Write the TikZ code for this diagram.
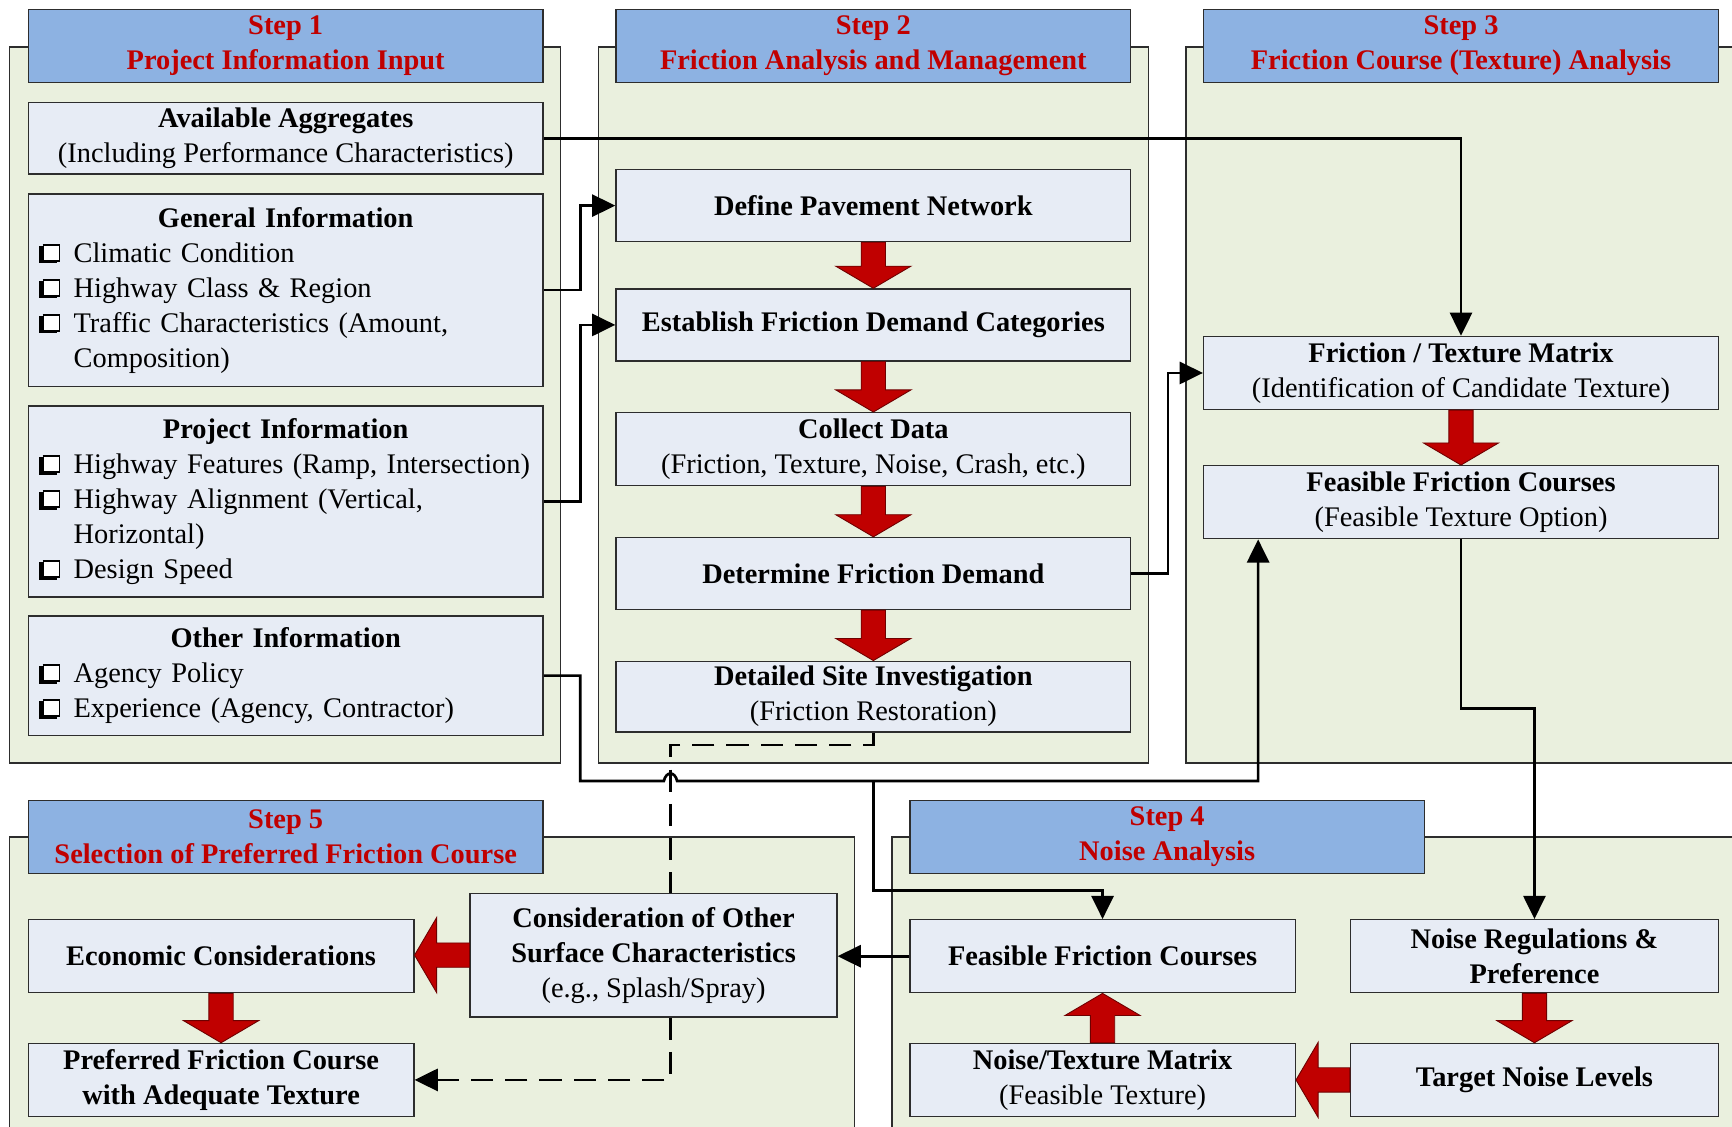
\documentclass[tikz,border=0pt]{standalone}
\usepackage{fontspec}
\setmainfont{Liberation Serif}
\usetikzlibrary{arrows.meta,calc}

\definecolor{panelgreen}{RGB}{234,240,222}
\definecolor{headblue}{RGB}{141,178,226}
\definecolor{boxfill}{RGB}{231,236,245}
\definecolor{headred}{RGB}{192,0,0}
\definecolor{arrowred}{RGB}{192,0,0}
\definecolor{arrowdark}{RGB}{110,0,0}
\definecolor{edge}{RGB}{45,45,45}

\newcommand{\mainsize}{\fontsize{25.7}{31.7}\selectfont}
% shadowed check box built from rules (shadow at the lower left)
\newcommand{\chk}{\makebox[19pt][l]{%
  \rlap{\raisebox{-1pt}{\rule{16pt}{16pt}}}%
  \hspace{3pt}\raisebox{2pt}{\fboxsep=0pt\fboxrule=1.5pt\fbox{\textcolor{white}{\rule{13pt}{13pt}}}}}}
% list entry with a check box; continuation lines are indented to the text
\newcommand{\itm}[1]{\par\noindent\makebox[31pt][l]{\chk}#1\par}
\newcommand{\cont}{\\\hspace*{31pt}}

% red block arrows between two named boxes
\newcommand{\RedDown}[2]{%
  \filldraw[blockarrow] ($(#1.south)+(-11,0)$) -- ($(#1.south)+(11,0)$)
    -- ($(#1.south |- #2.north)+(11,-20)$) -- ($(#1.south |- #2.north)+(34,-20)$)
    -- (#1.south |- #2.north)
    -- ($(#1.south |- #2.north)+(-34,-20)$) -- ($(#1.south |- #2.north)+(-11,-20)$) -- cycle;}
\newcommand{\RedUp}[2]{%
  \filldraw[blockarrow] ($(#1.north)+(-11,0)$) -- ($(#1.north)+(11,0)$)
    -- ($(#1.north |- #2.south)+(11,20)$) -- ($(#1.north |- #2.south)+(34,20)$)
    -- (#1.north |- #2.south)
    -- ($(#1.north |- #2.south)+(-34,20)$) -- ($(#1.north |- #2.south)+(-11,20)$) -- cycle;}
\newcommand{\RedLeft}[2]{%
  \filldraw[blockarrow] ($(#1.west)+(0,-11)$) -- ($(#1.west)+(0,11)$)
    -- ($(#1.west -| #2.east)+(20,11)$) -- ($(#1.west -| #2.east)+(20,34)$)
    -- (#1.west -| #2.east)
    -- ($(#1.west -| #2.east)+(20,-34)$) -- ($(#1.west -| #2.east)+(20,-11)$) -- cycle;}

\tikzset{
  panel/.style={draw=edge, fill=panelgreen, line width=1.2pt, anchor=north west, inner sep=0pt},
  header/.style={draw=edge, fill=headblue, line width=1.3pt, anchor=north west, inner sep=0pt,
    align=center, text=headred, font=\mainsize\bfseries, minimum width=466pt, minimum height=66pt},
  box/.style={draw=edge, fill=boxfill, line width=1.3pt, anchor=north west, inner sep=0pt,
    align=center, font=\mainsize},
  listbox/.style={box, inner xsep=10pt, text width=446pt, align=left, minimum width=466pt},
  tip/.style={-{Triangle[length=21pt,width=20pt]}},
  conn/.style={draw=black, line width=2.4pt, tip},
  dashlink/.style={draw=black, line width=2.4pt, dash pattern=on 20pt off 11pt},
  blockarrow/.style={fill=arrowred, draw=arrowdark, line width=0.8pt, line join=miter},
}

\begin{document}
\begin{tikzpicture}[x=1pt,y=-1pt]
\useasboundingbox (0,0) rectangle (1568,1020);
\clip (0,0) rectangle (1568,1020);

% ---- step panels
\node[panel, minimum width=499pt, minimum height=648pt] (p1) at (8,42) {};
\node[panel, minimum width=498pt, minimum height=648pt] (p2) at (541,42) {};
\node[panel, minimum width=530pt, minimum height=648pt] (p3) at (1073,42) {};
\node[panel, minimum width=765pt, minimum height=300pt] (p5) at (8,757) {};
\node[panel, minimum width=800pt, minimum height=300pt] (p4) at (807,757) {};

\node[header] (h1) at (25,8) {Step 1\\Project Information Input};
\node[header] (h2) at (557,8) {Step 2\\Friction Analysis and Management};
\node[header] (h3) at (1089,8) {Step 3\\Friction Course (Texture) Analysis};
\node[header] (h5) at (25,724) {Step 5\\Selection of Preferred Friction Course};
\node[header] (h4) at (823,724) {Step 4\\Noise Analysis};

% ---- step 1
\node[box, minimum width=466pt, minimum height=65pt] (agg) at (25,92)
  {\textbf{Available Aggregates}\\(Including Performance Characteristics)};
\node[listbox, minimum height=174pt] (gen) at (25,175) {%
  {\centering\bfseries General Information\par}
  \itm{Climatic Condition}
  \itm{Highway Class \& Region}
  \itm{Traffic Characteristics (Amount,\cont Composition)}};
\node[listbox, minimum height=173pt] (proj) at (25,367) {%
  {\centering\bfseries Project Information\par}
  \itm{Highway Features (Ramp, Intersection)}
  \itm{Highway Alignment (Vertical,\cont Horizontal)}
  \itm{Design Speed}};
\node[listbox, minimum height=108pt] (oth) at (25,557) {%
  {\centering\bfseries Other Information\par}
  \itm{Agency Policy}
  \itm{Experience (Agency, Contractor)}};

% ---- step 2
\node[box, minimum width=466pt, minimum height=65pt, font=\mainsize\bfseries] (def) at (557,153) {Define Pavement Network};
\node[box, minimum width=466pt, minimum height=65pt, font=\mainsize\bfseries] (est) at (557,261) {Establish Friction Demand Categories};
\node[box, minimum width=466pt, minimum height=66pt] (col) at (557,373)
  {\textbf{Collect Data}\\(Friction, Texture, Noise, Crash, etc.)};
\node[box, minimum width=466pt, minimum height=65pt, font=\mainsize\bfseries] (det) at (557,486) {Determine Friction Demand};
\node[box, minimum width=466pt, minimum height=64pt] (dsi) at (557,598)
  {\textbf{Detailed Site Investigation}\\(Friction Restoration)};

% ---- step 3
\node[box, minimum width=466pt, minimum height=66pt] (ftm) at (1089,304)
  {\textbf{Friction / Texture Matrix}\\(Identification of Candidate Texture)};
\node[box, minimum width=466pt, minimum height=66pt] (ffc3) at (1089,421)
  {\textbf{Feasible Friction Courses}\\(Feasible Texture Option)};

% ---- step 5
\node[box, minimum width=349pt, minimum height=66pt, font=\mainsize\bfseries] (eco) at (25,832) {Economic Considerations};
\node[box, minimum width=349pt, minimum height=66pt, font=\mainsize\bfseries] (pref) at (25,944)
  {Preferred Friction Course\\with Adequate Texture};
\node[box, minimum width=332pt, minimum height=112pt] (cons) at (425,808)
  {\textbf{Consideration of Other}\\\textbf{Surface Characteristics}\\(e.g., Splash/Spray)};

% ---- step 4
\node[box, minimum width=349pt, minimum height=66pt, font=\mainsize\bfseries] (ffc4) at (823,832) {Feasible Friction Courses};
\node[box, minimum width=333pt, minimum height=66pt, font=\mainsize\bfseries] (nr) at (1222,832)
  {Noise Regulations \&\\Preference};
\node[box, minimum width=349pt, minimum height=66pt] (ntm) at (823,944)
  {\textbf{Noise/Texture Matrix}\\(Feasible Texture)};
\node[box, minimum width=333pt, minimum height=66pt, font=\mainsize\bfseries] (tnl) at (1222,944) {Target Noise Levels};

% ---- connectors
\draw[conn] (agg.east) -| (ftm.north);
\draw[conn] (gen.east) -- ++(33,0) |- (def.west);
\draw[conn] (proj.east) -- ++(33,0) |- (est.west);
\draw[conn] (det.east) -- ++(33,0) |- (ftm.west);
\draw[conn] (ffc3.south) -- ++(0,153) -| (nr.north);

\coordinate (hop) at (607,707);
\coordinate (ffcin) at ($(ffc3.south west)+(50,0)$);
\draw[conn] (oth.east) -- ++(33,0) |- ($(hop)+(-6,0)$)
  .. controls ($(hop)+(-4,-9)$) and ($(hop)+(4,-9)$) .. ($(hop)+(6,0)$) -| (ffcin);
\coordinate (split) at (dsi.south |- hop);
\draw[conn] (split) -- ++(0,99) -| (ffc4.north);
\draw[conn] (ffc4.west) -- (ffc4.west -| cons.east);

\coordinate (dturn) at ($(dsi.south)+(0,11)$);
\draw[dashlink] (dsi.south) -- (dturn) -- (dturn -| hop) -- (hop |- cons.north);
\draw[dashlink, tip] (hop |- cons.south) |- (pref.east);

% ---- red block arrows
\RedDown{def}{est}
\RedDown{est}{col}
\RedDown{col}{det}
\RedDown{det}{dsi}
\RedDown{ftm}{ffc3}
\RedDown{eco}{pref}
\RedDown{nr}{tnl}
\RedUp{ntm}{ffc4}
\RedLeft{cons}{eco}
\RedLeft{tnl}{ntm}
\end{tikzpicture}
\end{document}
